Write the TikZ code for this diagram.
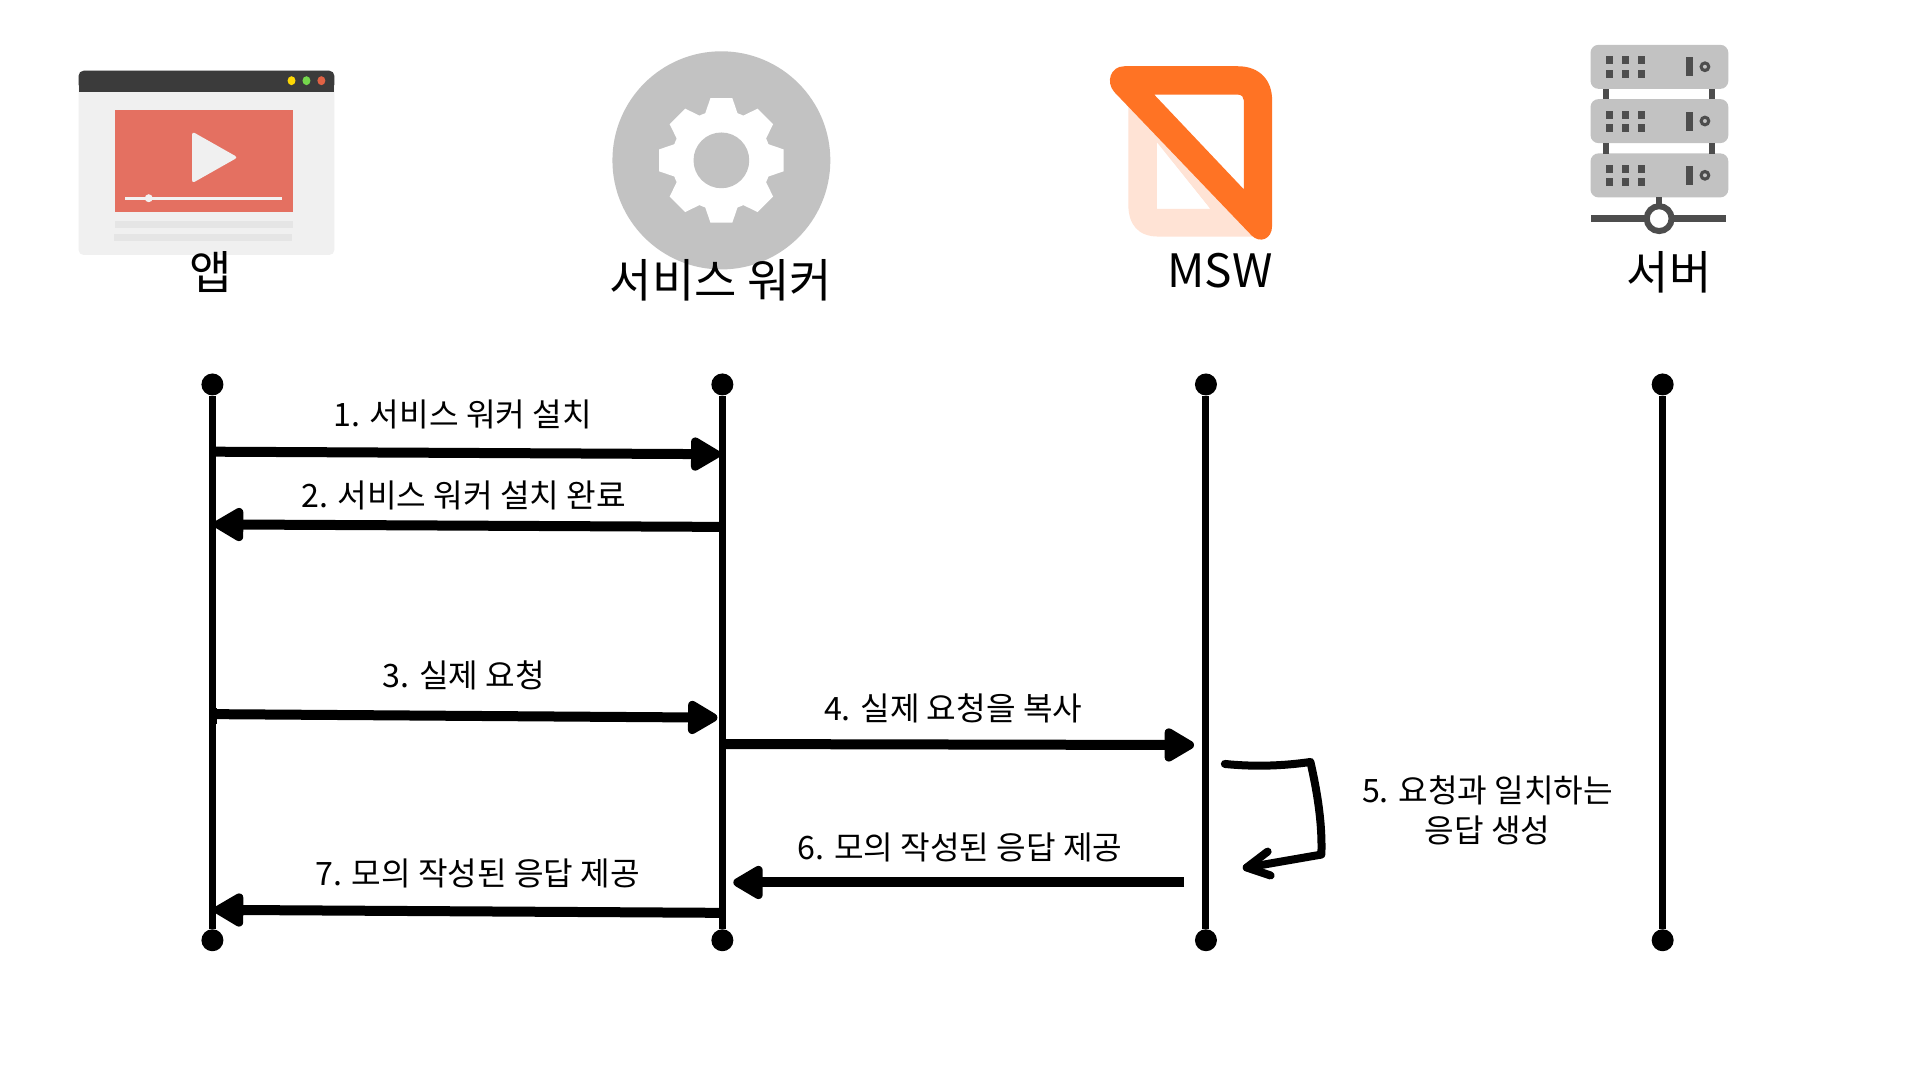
\documentclass[tikz,border=0pt]{standalone}
\usepackage{fontspec}
\setmainfont{Noto Sans CJK KR}
\usetikzlibrary{arrows.meta}
\definecolor{iconGray}{HTML}{C2C2C2}
\definecolor{darkGray}{HTML}{4D4D4D}
\definecolor{orangeM}{HTML}{FF7324}
\definecolor{paleM}{HTML}{FFE3D5}
\tikzset{
  title/.style={inner sep=0pt,font=\fontsize{46}{50}\selectfont},
  msg/.style={inner sep=0pt,align=center,font=\fontsize{32.2}{40}\selectfont},
  dot/.style={circle,fill=black,minimum size=22pt,inner sep=0pt},
  life/.style={line width=7pt},
  call/.style={line width=10pt,-{Triangle[length=34pt,width=37pt,round]}},
  hand/.style={line width=8pt,line cap=round,line join=round},
}
\begin{document}
\begin{tikzpicture}[x=0.995pt,y=-0.996pt]
\useasboundingbox (0,0) rectangle (1929.65,1084.34);
\fill[white] (0,0) rectangle (1929.65,1084.34);
% --- app icon
\fill[fill=black!6,rounded corners=5pt] (79,71) rectangle (336,256);
\fill[fill=black!77,rounded corners=5pt] (79,71) rectangle (336,90);
\fill[black!77] (79,80) rectangle (336,92);
\fill[fill=yellow!75!orange] (293,81) ellipse (4 and 4.5);
\fill[fill=green!55!olive!70!white] (308,81) ellipse (4 and 4.5);
\fill[fill=red!45!brown!85] (323,81) ellipse (4 and 4.5);
\fill[fill={rgb,255:red,228;green,112;blue,97}] (116,110) rectangle (294,213);
\fill[black!6,rounded corners=3pt] (193,132) -- (239,158) -- (193,184) -- cycle;
\fill[black!5] (126,197.5) rectangle (283,200.5);
\fill[black!5] (149.5,199) circle (4);
\fill[black!10] (116,222) rectangle (294,229);
\fill[black!10] (115,235) rectangle (293,242);
% --- service worker icon
\fill[iconGray] (725,161) circle (109.5);
\foreach \a in {0,45,...,315}{
  \fill[white,shift={(725,161)},rotate=\a] (45,-17) -- (62.5,-11) -- (62.5,11) -- (45,17) -- cycle;
}
\fill[white] (725,161) circle (50);
\fill[iconGray] (725,161) circle (28);
% --- MSW icon
\begin{scope}[shift={(4,0.5)}]
\fill[paleM,even odd rule,rounded corners=0pt] (1130,105) -- (1130,205) .. controls (1130,225) and (1140,237) .. (1160,237) -- (1262,237) -- (1262,225) -- (1158,105) -- cycle
  (1159,143) -- (1212,209) -- (1159,209) -- cycle;
\fill[white] (1159,143) -- (1212,209) -- (1159,209) -- cycle;
\fill[orangeM,even odd rule] (1126,66) -- (1240,66) .. controls (1262,66) and (1274.5,80) .. (1274.5,100) -- (1274.5,226) .. controls (1274.5,240) and (1262,244) .. (1254,236) -- (1116,92) .. controls (1107,82) and (1112,66) .. (1126,66) -- cycle
  (1156,94.5) -- (1240,94.5) .. controls (1244,94.5) and (1246,97) .. (1246,100) -- (1246,189.5) -- cycle;
\end{scope}
% --- server icon
\begin{scope}[shift={(4,0)}]
\foreach \t in {45,99.5,154}{
  \fill[iconGray,rounded corners=8pt] (1594.5,\t) rectangle (1733,\t+44.2);
  \foreach \dx in {1613.5,1629.5,1646}{
    \fill[darkGray] (\dx-3.5,\t+11.5) rectangle (\dx+3.5,\t+19.5);
    \fill[darkGray] (\dx-3.5,\t+25) rectangle (\dx+3.5,\t+33);
  }
  \fill[darkGray] (1690,\t+12.7) rectangle (1697,\t+31.7);
  \fill[darkGray] (1709.5,\t+22) circle (5.5);
  \fill[iconGray] (1709.5,\t+22) circle (2);
}
\foreach \y in {89,143.7}{
  \fill[darkGray] (1607.5,\y) rectangle (1613.5,\y+10.5);
  \fill[darkGray] (1714,\y) rectangle (1720,\y+10.5);
}
\fill[darkGray] (1660.5,198) rectangle (1666.5,212);
\fill[darkGray] (1594.5,215.8) rectangle (1731,222.8);
\draw[darkGray,line width=6pt,fill=white] (1663.5,219.5) circle (12.5);
\end{scope}
% --- titles
\node[title] (tApp) at (211.5,273) {앱};
\node[title] (tSw) at (724.5,281) {서비스 워커};
\node[title] (tMsw) at (1226,272) {MSW};
\node[title] (tSrv) at (1677.5,273) {서버};
% --- lifelines
\node[dot] (a1) at (213.5,386) {};
\node[dot] (a2) at (213.5,944) {};
\node[dot] (b1) at (726,386) {};
\node[dot] (b2) at (726,944) {};
\node[dot] (c1) at (1212,386) {};
\node[dot] (c2) at (1212,944) {};
\node[dot] (d1) at (1671,386) {};
\node[dot] (d2) at (1671,944) {};
\draw[life] (a1) -- (a2);
\draw[life] (b1) -- (b2);
\draw[life] (c1) -- (c2);
\draw[life] (d1) -- (d2);
% --- messages
\coordinate (m1s) at (215,453.5);
\coordinate (m1e) at (724,456);
\coordinate (m2s) at (725,529);
\coordinate (m2e) at (215,526.5);
\coordinate (m3s) at (215,717);
\coordinate (m3e) at (721,720.5);
\coordinate (m4s) at (729,747);
\coordinate (m4e) at (1200,748);
\coordinate (m6s) at (1190,886);
\coordinate (m6e) at (737,886);
\coordinate (m7s) at (726,916.5);
\coordinate (m7e) at (215,913.5);
\draw[call] (m1s) -- (m1e);
\draw[call] (m2s) -- (m2e);
\draw[call] (m3s) -- (m3e);
\draw[call] (m4s) -- (m4e);
\draw[call] (m6s) -- (m6e);
\draw[call] (m7s) -- (m7e);
\fill[black] (215,711) rectangle (218,727);
\node[msg] (l1) at (465,416) {1. 서비스 워커 설치};
\node[msg] (l2) at (466,497) {2. 서비스 워커 설치 완료};
\node[msg] (l3) at (466,678) {3. 실제 요청};
\node[msg] (l4) at (958,711) {4. 실제 요청을 복사};
\node[msg] (l5) at (1495,814) {5. 요청과 일치하는\\응답 생성};
\node[msg] (l6) at (965,851) {6. 모의 작성된 응답 제공};
\node[msg] (l7) at (480,877) {7. 모의 작성된 응답 제공};
% --- hand-drawn self arrow
\coordinate (s0) at (1231,767);
\coordinate (s1) at (1317,765);
\coordinate (s2) at (1328,858);
\coordinate (s3) at (1253,871);
\coordinate (s4) at (1274,855);
\coordinate (s5) at (1277,879);
\draw[hand] (s0) .. controls (1260,770) and (1290,769) .. (s1) .. controls (1325,800) and (1329,830) .. (s2) -- (s3);
\draw[hand] (s4) -- (s3) -- (s5);
\end{tikzpicture}
\end{document}
